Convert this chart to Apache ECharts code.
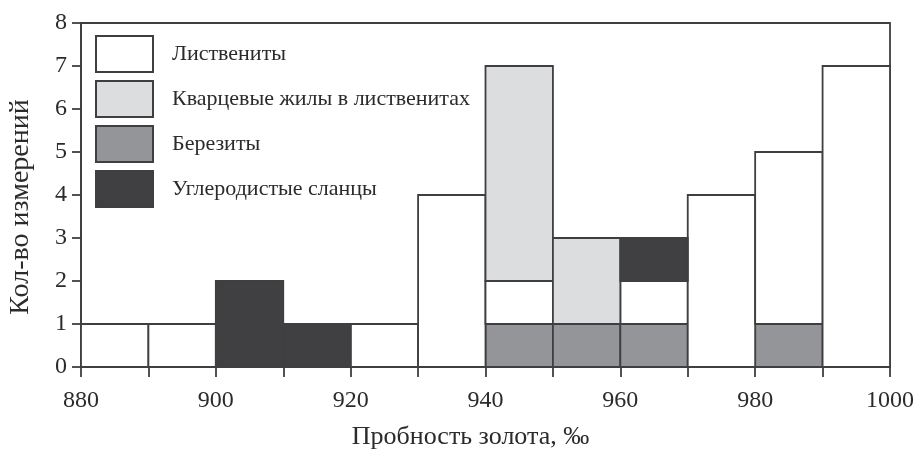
<!DOCTYPE html>
<html>
<head>
<meta charset="utf-8">
<script src="https://cdn.jsdelivr.net/npm/echarts@6/dist/echarts.min.js"></script>
<style>
  html, body { margin: 0; padding: 0; background: #ffffff; }
  #chart { width: 919px; height: 450px; }
</style>
</head>
<body>
<div id="chart"></div>
<script>
// Bin edges of gold fineness (‰); each bin is 10‰ wide
const binStarts = [880, 890, 900, 910, 920, 930, 940, 950, 960, 970, 980, 990];
const binWidth = 10;

// Counts per bin for each rock type (stacked bottom to top in this order)
const berezity   = [0, 0, 0, 0, 0, 0, 1, 1, 1, 0, 1, 0];
const listvenity = [1, 1, 0, 0, 1, 4, 1, 0, 1, 4, 4, 7];
const kvartsevye = [0, 0, 0, 0, 0, 0, 5, 2, 0, 0, 0, 0];
const uglerod    = [0, 0, 2, 1, 0, 0, 0, 0, 1, 0, 0, 0];

const xTickLabels = [880, 900, 920, 940, 960, 980, 1000];
const yMax = 8;

const FONT = '"Liberation Serif", "DejaVu Serif", serif';
const INK = '#2b2a2c';
const EDGE = '#3f3f41';
const LINE_W = 1.8;

// Turn the stacked counts into [x0, x1, base, top] rectangles
const stackBase = binStarts.map(() => 0);
function stackRects(counts) {
  const out = [];
  counts.forEach((c, i) => {
    if (c > 0) {
      out.push([binStarts[i], binStarts[i] + binWidth, stackBase[i], stackBase[i] + c]);
      stackBase[i] += c;
    }
  });
  return out;
}

function renderRect(params, api) {
  const p0 = api.coord([api.value(0), api.value(2)]);
  const p1 = api.coord([api.value(1), api.value(3)]);
  return {
    type: 'rect',
    shape: { x: p0[0], y: p1[1], width: p1[0] - p0[0], height: p0[1] - p1[1] },
    style: { fill: api.visual('color'), stroke: EDGE, lineWidth: LINE_W }
  };
}

function histSeries(name, counts, color) {
  return {
    name: name,
    type: 'custom',
    renderItem: renderRect,
    encode: { x: [0, 1], y: [2, 3] },
    data: stackRects(counts),
    itemStyle: { color: color, borderColor: EDGE, borderWidth: LINE_W },
    emphasis: { disabled: true }
  };
}

const series = [
  histSeries('Березиты', berezity, '#939598'),
  histSeries('Листвениты', listvenity, '#ffffff'),
  histSeries('Кварцевые жилы в лиственитах', kvartsevye, '#dcdddf'),
  histSeries('Углеродистые сланцы', uglerod, '#404042')
];

const chart = echarts.init(document.getElementById('chart'), null, { renderer: 'canvas' });
chart.setOption({
  animation: false,
  backgroundColor: '#ffffff',
  grid: {
    left: 81, right: 29, top: 23, bottom: 83,
    show: true, borderColor: EDGE, borderWidth: LINE_W,
    containLabel: false,
    outerBoundsMode: 'none'
  },
  legend: {
    orient: 'vertical',
    left: 95, top: 35,
    padding: 0,
    itemWidth: 57, itemHeight: 36,
    itemGap: 7,
    icon: 'rect',
    selectedMode: false,
    data: ['Листвениты', 'Кварцевые жилы в лиственитах', 'Березиты', 'Углеродистые сланцы'],
    textStyle: { fontFamily: FONT, fontSize: 22, color: INK, padding: [0, 0, 0, 14] }
  },
  xAxis: {
    type: 'value',
    min: 880, max: 1000, interval: 10,
    axisLine: { show: true, onZero: false, lineStyle: { color: EDGE, width: LINE_W } },
    axisTick: { show: true, length: 10, lineStyle: { color: EDGE, width: LINE_W } },
    splitLine: { show: false },
    axisLabel: {
      margin: 22,
      fontFamily: FONT, fontSize: 24, color: INK,
      formatter: v => (xTickLabels.indexOf(v) >= 0 ? String(v) : '')
    },
    name: 'Пробность золота, ‰',
    nameLocation: 'middle',
    nameGap: 57,
    nameTextStyle: { fontFamily: FONT, fontSize: 26, color: INK, padding: [0, 30, 0, 0] }
  },
  yAxis: {
    type: 'value',
    min: 0, max: yMax, interval: 1,
    axisLine: { show: true, lineStyle: { color: EDGE, width: LINE_W } },
    axisTick: { show: true, length: 9, lineStyle: { color: EDGE, width: LINE_W } },
    splitLine: { show: false },
    axisLabel: { margin: 14, fontFamily: FONT, fontSize: 24, color: INK },
    name: 'Кол-во измерений',
    nameLocation: 'middle',
    nameGap: 46,
    nameTextStyle: { fontFamily: FONT, fontSize: 28, color: INK, padding: [0, 24, 0, 0] }
  },
  series: series
});
</script>
</body>
</html>
